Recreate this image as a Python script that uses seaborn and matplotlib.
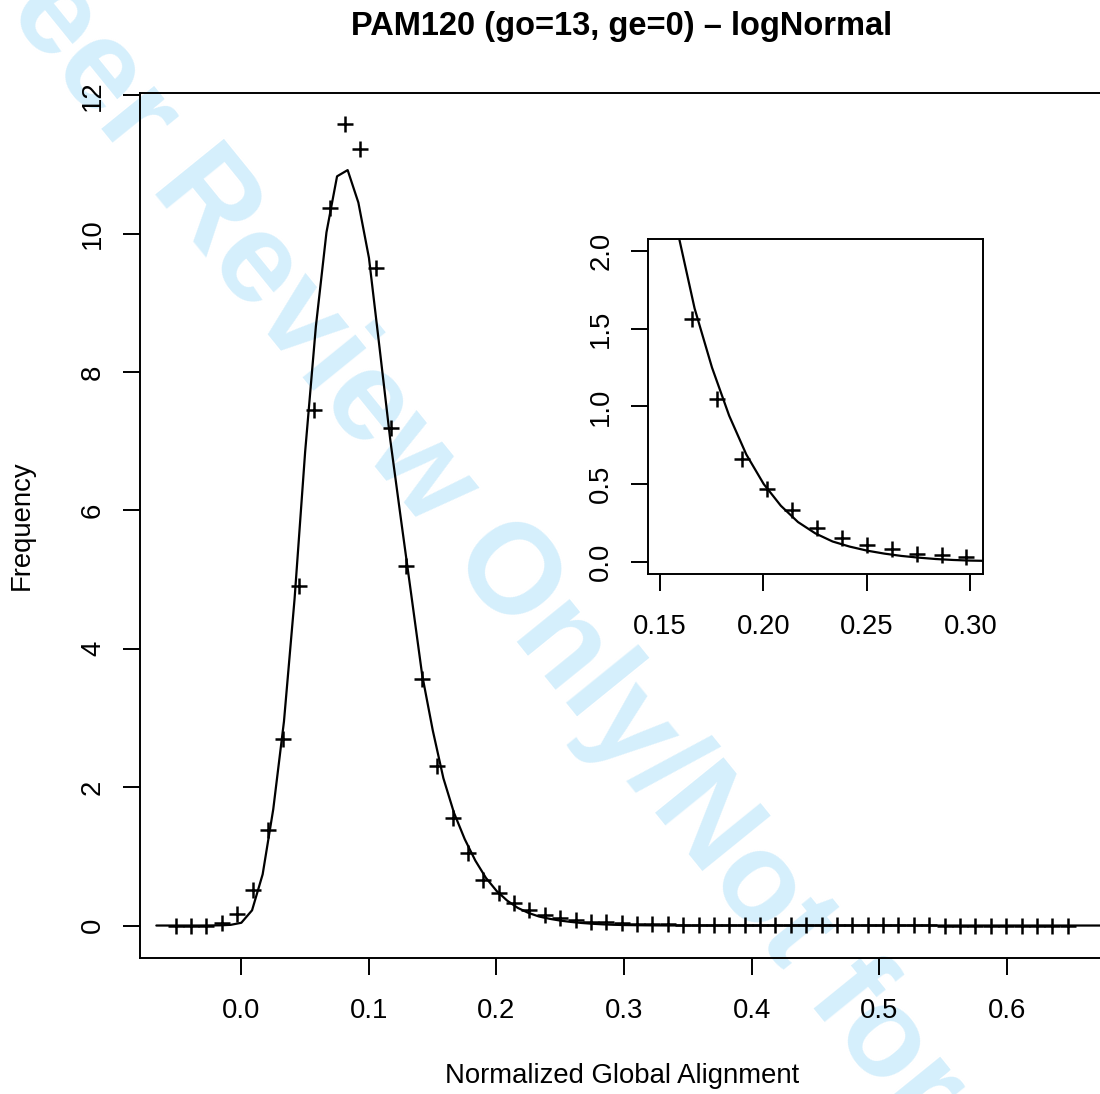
import matplotlib
matplotlib.use("Agg")
import matplotlib.pyplot as plt
import numpy as np
import pandas as pd
import seaborn as sns

# ---------------- data ----------------
title = "PAM120 (go=13, ge=0) \u2013 logNormal"
xlabel = "Normalized Global Alignment"
ylabel = "Frequency"
watermark = "Peer Review Only/Not for"

# observed frequencies (histogram bin centres)
obs_x = [-0.0513, -0.0393, -0.0272, -0.0152, -0.0031, 0.0089, 0.0210, 0.0330,
         0.0451, 0.0571, 0.0692, 0.0812, 0.0933, 0.1053, 0.1174, 0.1294,
         0.1415, 0.1535, 0.1656, 0.1776, 0.1897, 0.2017, 0.2138, 0.2258,
         0.2379, 0.2499, 0.2620, 0.2740, 0.2861, 0.2981, 0.3102, 0.3222,
         0.3343, 0.3463, 0.3584, 0.3704, 0.3825, 0.3945, 0.4066, 0.4186,
         0.4307, 0.4427, 0.4548, 0.4668, 0.4789, 0.4909, 0.5030, 0.5150,
         0.5271, 0.5391, 0.5512, 0.5632, 0.5753, 0.5873, 0.5994, 0.6114,
         0.6235, 0.6355, 0.6477]
obs_y = [0.0, 0.0, 0.0, 0.04, 0.16, 0.51, 1.38, 2.69,
         4.91, 7.45, 10.37, 11.58, 11.22, 9.51, 7.19, 5.20,
         3.56, 2.30, 1.56, 1.05, 0.66, 0.47, 0.33, 0.22,
         0.15, 0.11, 0.08, 0.05, 0.045, 0.03, 0.025, 0.02,
         0.015, 0.012, 0.01, 0.008, 0.006, 0.005, 0.004, 0.004,
         0.003, 0.003, 0.002, 0.002, 0.002, 0.001, 0.001, 0.001,
         0.001, 0.001, 0.0, 0.0, 0.0, 0.0, 0.0, 0.0,
         0.0, 0.0, 0.0]

# fitted log-normal curve (polyline vertices)
fit_x = [-0.0665, -0.0582, -0.0498, -0.0415, -0.0332, -0.0248, -0.0165, -0.0082,
         0.0001, 0.0085, 0.0168, 0.0251, 0.0335, 0.0418, 0.0501, 0.0585,
         0.0668, 0.0751, 0.0834, 0.0918, 0.1001, 0.1084, 0.1168, 0.1251,
         0.1334, 0.1418, 0.1501, 0.1584, 0.1667, 0.1751, 0.1834, 0.1917,
         0.2001, 0.2084, 0.2167, 0.2251, 0.2334, 0.2417, 0.2501, 0.2584,
         0.2667, 0.2750, 0.2834, 0.2917, 0.3000, 0.3084, 0.3167, 0.3250,
         0.3334, 0.3417, 0.3500, 0.4000, 0.5000, 0.6000, 0.7000]
fit_y = [0.0, 0.0, 0.0, 0.0, 0.0, 0.001, 0.003, 0.01,
         0.04, 0.22, 0.74, 1.68, 2.95, 4.72, 6.85, 8.66,
         10.02, 10.83, 10.92, 10.45, 9.65, 8.35, 7.02, 5.88,
         4.76, 3.62, 2.82, 2.13, 1.63, 1.25, 0.94, 0.69,
         0.50, 0.36, 0.255, 0.182, 0.13, 0.097, 0.071, 0.052,
         0.037, 0.026, 0.017, 0.011, 0.007, 0.005, 0.003, 0.002,
         0.001, 0.001, 0.0, 0.0, 0.0, 0.0, 0.0]

main_xticks = [0.0, 0.1, 0.2, 0.3, 0.4, 0.5, 0.6]
main_xticklabels = ["0.0", "0.1", "0.2", "0.3", "0.4", "0.5", "0.6"]
main_yticks = [0, 2, 4, 6, 8, 10, 12]
main_yticklabels = ["0", "2", "4", "6", "8", "10", "12"]
inset_xticks = [0.15, 0.20, 0.25, 0.30]
inset_xticklabels = ["0.15", "0.20", "0.25", "0.30"]
inset_yticks = [0.0, 0.5, 1.0, 1.5, 2.0]
inset_yticklabels = ["0.0", "0.5", "1.0", "1.5", "2.0"]

obs = pd.DataFrame({"x": obs_x, "y": obs_y})
fit = pd.DataFrame({"x": fit_x, "y": fit_y})

# ---------------- style ----------------
sns.set_style("ticks")
plt.rcParams["font.family"] = ["Liberation Sans", "DejaVu Sans"]
plt.rcParams["text.color"] = "black"
plt.rcParams["axes.labelcolor"] = "black"
plt.rcParams["xtick.color"] = "black"
plt.rcParams["ytick.color"] = "black"

W, H = 1100, 1094
fig = plt.figure(figsize=(W / 100, H / 100), dpi=100)


def box(l, t, r, b):
    return [l / W, 1 - b / H, (r - l) / W, (b - t) / H]


LW = 1.4
TICKLEN = 12
FS = 19.8


def style_axes(ax, xt, xtl, yt, ytl):
    for s in ax.spines.values():
        s.set_visible(True)
        s.set_linewidth(LW)
        s.set_color("black")
    ax.set_xticks(xt)
    ax.set_xticklabels(xtl)
    ax.set_yticks(yt)
    ax.set_yticklabels(ytl)
    ax.tick_params(axis="both", direction="out", length=TICKLEN, width=LW,
                   labelsize=FS, colors="black", labelcolor="black")
    ax.tick_params(axis="x", pad=17.0)
    ax.tick_params(axis="y", pad=12.5)
    for lab in ax.get_yticklabels():
        lab.set_rotation(90)
        lab.set_va("center")
        lab.set_ha("right")
    ax.set_xlabel("")
    ax.set_ylabel("")


def draw(ax):
    sns.lineplot(data=fit, x="x", y="y", ax=ax, color="black", linewidth=1.6,
                 sort=False, estimator=None, legend=False)
    sns.scatterplot(data=obs, x="x", y="y", ax=ax, marker="+", s=140,
                    color="black", linewidth=1.8, legend=False, zorder=3)


# main axes (transparent so the watermark shows through)
ax = fig.add_axes(box(140, 93.3, 1103.6, 957.7))
ax.set_facecolor("none")
draw(ax)
ax.set_xlim(-0.0793, 0.6757)
ax.set_ylim(-0.465, 12.03)
style_axes(ax, main_xticks, main_xticklabels, main_yticks, main_yticklabels)

# inset axes
axi = fig.add_axes(box(648.3, 238.6, 983.3, 574.1))
axi.set_facecolor("white")
draw(axi)
axi.set_xlim(0.1443, 0.3063)
axi.set_ylim(-0.08, 2.08)
style_axes(axi, inset_xticks, inset_xticklabels, inset_yticks, inset_yticklabels)

# texts
fig.text(621.8 / W, 1 - 35 / H, title, ha="center", va="baseline",
         fontsize=23.5, fontweight="bold", color="black")
fig.text(621.8 / W, 1 - 1076 / H, xlabel, ha="center", va="center",
         fontsize=FS, color="black")
fig.text(22 / W, 1 - 525 / H, ylabel, ha="center", va="center", fontsize=FS,
         rotation=90, color="black")

# watermark (behind everything)
fig.text(-22 / W, 1 + 76 / H, watermark, ha="left", va="center",
         rotation=-51, rotation_mode="anchor", fontsize=92, fontweight="bold",
         color="#d5effc", zorder=-10)

fig.savefig("out.png", dpi=100, facecolor="white")
